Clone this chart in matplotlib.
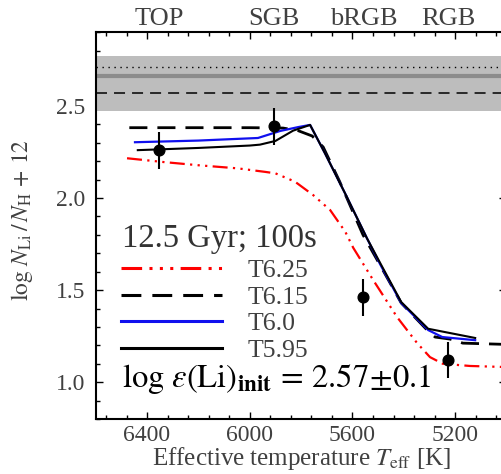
import matplotlib
matplotlib.use('Agg')
import matplotlib.pyplot as plt
from matplotlib.ticker import MultipleLocator
import matplotlib.transforms as mtransforms

plt.rcParams['font.family'] = ['Liberation Serif', 'DejaVu Serif']
plt.rcParams['mathtext.fontset'] = 'stix'

# ---------------- data ----------------
stage_labels = ['TOP', 'SGB', 'bRGB', 'RGB']
obs_teff = [6352, 5905, 5557, 5227]
obs_li = [2.26, 2.39, 1.46, 1.12]
obs_err = [0.10, 0.10, 0.10, 0.10]

t625_teff = [6478, 6340, 6200, 6046, 5940, 5900, 5824, 5753, 5687, 5628,
             5597, 5519, 5426, 5348, 5298, 5248, 5142, 5000]
t625_li = [2.216, 2.196, 2.178, 2.161, 2.142, 2.134, 2.089, 2.016, 1.935, 1.817,
           1.730, 1.554, 1.353, 1.212, 1.136, 1.100, 1.088, 1.082]

t615_teff = [6469, 6000, 5870, 5812, 5757, 5714, 5650, 5559, 5490, 5410,
             5305, 5278, 5220, 5170, 5000]
t615_li = [2.382, 2.382, 2.380, 2.366, 2.337, 2.277, 2.090, 1.800, 1.630, 1.430,
           1.277, 1.245, 1.234, 1.212, 1.205]

t600_teff = [6447, 6200, 6085, 5968, 5882, 5812, 5765, 5707, 5629, 5543,
             5492, 5410, 5305, 5250, 5122]
t600_li = [2.303, 2.312, 2.319, 2.326, 2.364, 2.385, 2.397, 2.243, 2.026, 1.780,
           1.640, 1.430, 1.283, 1.245, 1.228]

t595_teff = [6436, 6200, 6000, 5960, 5900, 5831, 5765, 5707, 5629, 5543,
             5492, 5410, 5305, 5122]
t595_li = [2.260, 2.272, 2.285, 2.290, 2.310, 2.366, 2.397, 2.243, 2.026, 1.780,
           1.647, 1.435, 1.290, 1.240]

model_labels = ['T6.25', 'T6.15', 'T6.0', 'T5.95']

band_low, band_high = 2.47, 2.77
li_solid = 2.66
li_dotted = 2.71
li_init = 2.57

xticks = [6400, 6000, 5600, 5200]
yticks = [1.0, 1.5, 2.0, 2.5]

# ---------------- figure ----------------
gray_txt = '#404040'
fig = plt.figure(figsize=(5.02, 4.74), dpi=100)
ax = fig.add_axes([95.7 / 502, 1 - 419 / 474, 410.8 / 502, 386.7 / 474])
ax.set_axisbelow(True)

ax.axhspan(band_low, band_high, color='#bdbdbd', lw=0, zorder=1)
ax.axhline(li_solid, color='#8c8c8c', lw=3, zorder=1.2)
ax.axhline(li_dotted, color='black', lw=1.0, dashes=(1, 3.3), zorder=1.3)
ax.axhline(li_init, color='black', lw=1.1, dashes=(7.2, 4.6), zorder=1.3)

l1, = ax.plot(t625_teff, t625_li, color='red', lw=1.6,
              dashes=(6.75, 2.4, 1.0, 2.4, 1.0, 2.4, 1.0, 2.4), zorder=3)
l2, = ax.plot(t615_teff, t615_li, color='black', lw=2.0, dashes=(6.5, 3.6), zorder=3.1)
l3, = ax.plot(t600_teff, t600_li, color='#1010ee', lw=1.6, zorder=3.2)
l4, = ax.plot(t595_teff, t595_li, color='black', lw=1.5, zorder=3.3)

ax.errorbar(obs_teff, obs_li, yerr=obs_err, fmt='o', color='black', ms=7.7,
            elinewidth=1.5, capsize=0, zorder=5)

ax.set_xlim(6600, 5000)
ax.set_ylim(0.8, 2.9)
ax.set_xticks(xticks)
ax.set_yticks(yticks)
ax.xaxis.set_minor_locator(MultipleLocator(80))
ax.yaxis.set_minor_locator(MultipleLocator(0.1))
ax.set_xticklabels([str(t) for t in xticks])
ax.set_yticklabels(['%.1f' % v for v in yticks])
ax.tick_params(which='both', direction='in', top=True, right=True,
               width=1.0, colors='black', labelcolor=gray_txt, labelsize=17)
ax.tick_params(which='major', length=5)
ax.tick_params(which='minor', length=3.2)
ax.tick_params(axis='x', pad=4)
ax.tick_params(axis='y', pad=7.5)
for s in ax.spines.values():
    s.set_linewidth(1.5)

ax.set_xlabel(r'Effective temperature $T_{\rm eff}$ [K]', fontsize=18, color=gray_txt)
ax.xaxis.set_label_coords(0.5, -0.068)
ax.set_ylabel(r'$\log\,N_{\rm Li}\,/\,N_{\rm H}\,+\,12$', fontsize=17, color=gray_txt)
ax.yaxis.set_label_coords(-0.148, 0.515)

trans = mtransforms.blended_transform_factory(ax.transData, ax.transAxes)
for t, lab in zip(obs_teff, stage_labels):
    ax.text(t, 1.018, lab, transform=trans, ha='center', va='baseline',
            fontsize=19, color=gray_txt)

ax.text(0.064, 0.445, '12.5 Gyr; 100s', transform=ax.transAxes, fontsize=23.5,
        color='#333333', va='baseline', ha='left')

leg = ax.legend([l1, l2, l3, l4], model_labels, loc='upper left',
                bbox_to_anchor=(0.0616, 0.414), frameon=False, fontsize=18.5,
                handlelength=3.93, handletextpad=1.0, labelspacing=0.145,
                borderpad=0, borderaxespad=0)
for txt in leg.get_texts():
    txt.set_color(gray_txt)
for h in leg.get_lines():
    h.set_linewidth(2.2)

ax.text(0.064, 0.083, r'$\log\,\varepsilon(\mathrm{Li})_{\mathbf{init}}\,=\,2.57\!\pm\!0.1$',
        transform=ax.transAxes, fontsize=23.5, color='black', va='baseline', ha='left')

fig.savefig('out.png', dpi=100)
